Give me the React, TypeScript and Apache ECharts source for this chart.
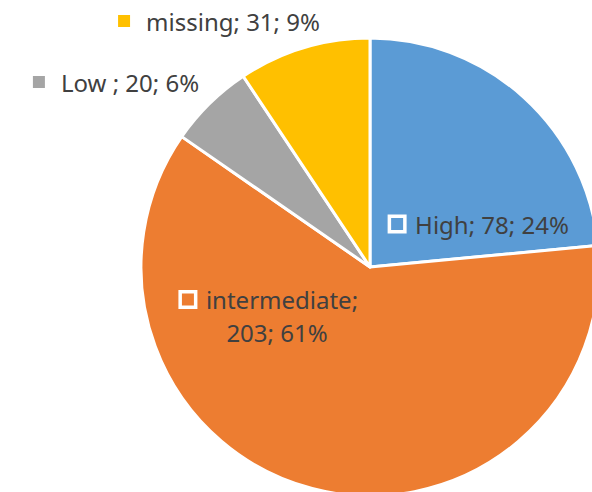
import React, { useEffect, useRef } from "react";
import * as echarts from "echarts";

const categories = ["High", "intermediate", "Low ", "missing"];
const values = [78, 203, 20, 31];
const colors = ["#5B9BD5", "#ED7D31", "#A5A5A5", "#FFC000"];

const labelPos: Record<number, { x: number; y: number }> = {
  0: { x: 480, y: 224 },
  1: { x: 270, y: 316 },
  2: { x: 116, y: 82 },
  3: { x: 219, y: 21 },
};

export default function App() {
  const ref = useRef<HTMLDivElement>(null);
  useEffect(() => {
    if (!ref.current) return;
    const chart = echarts.init(ref.current, undefined, { renderer: "svg" });
    const font = "'Noto Sans', sans-serif";
    chart.setOption({
      animation: false,
      backgroundColor: "#ffffff",
      series: [
        {
          type: "pie",
          center: [370, 267],
          radius: [0, 229],
          startAngle: 90,
          clockwise: true,
          percentPrecision: 0,
          itemStyle: { borderColor: "#ffffff", borderWidth: 3 },
          labelLine: { show: false },
          data: categories.map((name, i) => {
            const inside = i < 2;
            return {
              name,
              value: values[i],
              itemStyle: { color: colors[i] },
              label: {
                show: true,
                position: "inside",
                overflow: "none",
                formatter:
                  i === 1
                    ? "{m|}{t|{b};}\n{u|{c}; {d}%}"
                    : "{m|}{t|{b}; {c}; {d}%}",
                rich: {
                  m: inside
                    ? {
                        width: 12,
                        height: 12,
                        backgroundColor: colors[i],
                        borderColor: "#ffffff",
                        borderWidth: 3.5,
                      }
                    : {
                        width: 12,
                        height: 12,
                        backgroundColor: colors[i],
                      },
                  t: {
                    fontFamily: font,
                    fontSize: 24,
                    color: "#404040",
                    lineHeight: 33,
                    padding: [0, 0, 0, inside ? 12 : 16],
                  },
                  u: {
                    fontFamily: font,
                    fontSize: 24,
                    color: "#404040",
                    lineHeight: 33,
                    padding: [0, 0, 0, 14],
                  },
                },
              },
            };
          }),
          labelLayout: (params: any) => {
            const p = labelPos[params.dataIndex];
            return { x: p.x, y: p.y, align: "center", verticalAlign: "middle" };
          },
        },
      ],
    });
    return () => chart.dispose();
  }, []);
  return (
    <div
      ref={ref}
      style={{ position: "fixed", left: 0, top: 0, width: 592, height: 492 }}
    />
  );
}
